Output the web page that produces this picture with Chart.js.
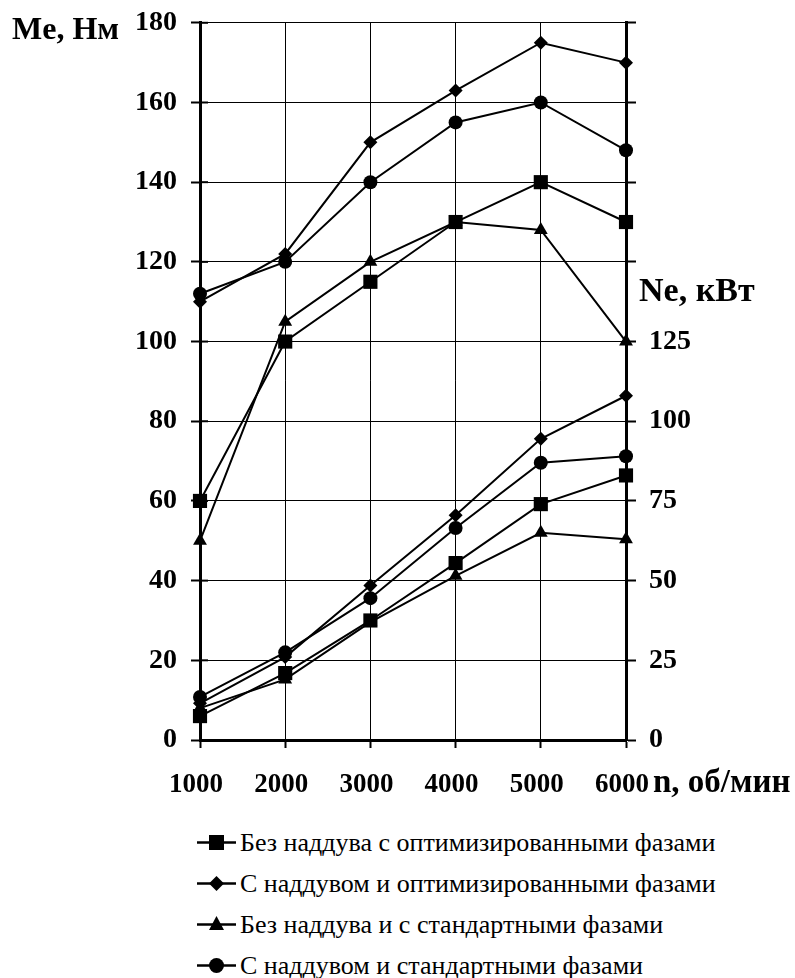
<!DOCTYPE html>
<html>
<head>
<meta charset="utf-8">
<script src="https://cdn.jsdelivr.net/npm/chart.js@4"></script>
<style>
  body { margin: 0; background: #fff; }
  #wrap { position: relative; width: 795px; height: 978px; font-family: 'Liberation Serif'; overflow: hidden; }
  #chart { position: absolute; left: 0; top: -8px; }
  .title { position: absolute; font-family: 'Liberation Serif'; font-weight: bold; white-space: nowrap; line-height: 1; }
  #legend { position: absolute; left: 197px; top: 822px; font-family: 'Liberation Serif'; }
  .item { display: flex; align-items: center; height: 41px; font-size: 26px; }
  .item svg { margin-right: 4px; }
</style>
</head>
<body>
<div id="wrap">
  <canvas id="chart" width="795" height="828"></canvas>
  <div class="title" style="left:12px; top:12px; font-size:32px;">Me, Нм</div>
  <div class="title" style="left:639px; top:273px; font-size:34px;">Ne, кВт</div>
  <div class="title" style="left:653px; top:765px; font-size:33px;">n, об/мин</div>
  <div id="legend"></div>
</div>
<script>
// rpm
const speeds = [1000, 2000, 3000, 4000, 5000, 6000];

// torque Me, N*m (left axis)
const meNoBoostOpt = [60, 100, 115, 130, 140, 130];
const meBoostOpt = [110, 122, 150, 163, 175, 170];
const meNoBoostStd = [50, 105, 120, 130, 128, 100];
const meBoostStd = [112, 120, 140, 155, 160, 148];

// power Ne, kW (right axis)
const neNoBoostOpt = [7.5, 21, 37.5, 55.5, 74, 83];
const neBoostOpt = [11.5, 26, 48.5, 70.5, 94.5, 108];
const neNoBoostStd = [10, 19, 37, 51.5, 65, 63];
const neBoostStd = [13.5, 27.5, 44.5, 66.5, 87, 89];

const seriesNames = [
    'Без наддува с оптимизированными фазами',
    'С наддувом и оптимизированными фазами',
    'Без наддува и с стандартными фазами',
    'С наддувом и стандартными фазами'
];
const markers = ['rect', 'rectRot', 'triangle', 'circle'];
const markerSizes = [10, 7, 8, 7];

const leftTicks = [0, 20, 40, 60, 80, 100, 120, 140, 160, 180];
const rightTickMax = 125;

Chart.defaults.font.family = "'Liberation Serif'";
const tickFont = { family: "'Liberation Serif'", size: 28, weight: 'bold' };
const xTickFont = { family: "'Liberation Serif'", size: 27, weight: 'bold' };

function toPoints(values) {
    return values.map((v, i) => ({ x: speeds[i], y: v }));
}

function makeSet(name, values, idx, axis) {
    return {
        label: name,
        data: toPoints(values),
        yAxisID: axis,
        borderColor: '#000',
        backgroundColor: '#000',
        borderWidth: 2,
        pointStyle: markers[idx],
        pointRadius: markerSizes[idx],
        pointHoverRadius: markerSizes[idx],
        pointBorderWidth: 0,
        tension: 0,
        clip: false
    };
}

let datasets = [
    makeSet(seriesNames[0], meNoBoostOpt, 0, 'y'),
    makeSet(seriesNames[1], meBoostOpt, 1, 'y'),
    makeSet(seriesNames[2], meNoBoostStd, 2, 'y'),
    makeSet(seriesNames[3], meBoostStd, 3, 'y'),
    makeSet(seriesNames[0], neNoBoostOpt, 0, 'y2'),
    makeSet(seriesNames[1], neBoostOpt, 1, 'y2'),
    makeSet(seriesNames[2], neNoBoostStd, 2, 'y2'),
    makeSet(seriesNames[3], neBoostStd, 3, 'y2')
];

// short tick marks on the inner side of the left axis
const innerTicks = {
    id: 'innerTicks',
    afterDraw(chart) {
        let ctx = chart.ctx;
        let y = chart.scales.y;
        let left = chart.chartArea.left;
        ctx.save();
        ctx.strokeStyle = '#000';
        ctx.lineWidth = 2;
        leftTicks.forEach((t) => {
            let py = y.getPixelForValue(t);
            ctx.beginPath();
            ctx.moveTo(left, py);
            ctx.lineTo(left + 8, py);
            ctx.stroke();
        });
        ctx.restore();
    }
};

let ctx = document.getElementById('chart').getContext('2d');
let chart = new Chart(ctx, {
    type: 'line',
    data: { datasets: datasets },
    plugins: [innerTicks],
    options: {
        responsive: false,
        animation: false,
        layout: { padding: { top: 14, left: 0, right: 0, bottom: 0 } },
        plugins: {
            legend: { display: false },
            tooltip: { enabled: false }
        },
        scales: {
            x: {
                type: 'linear',
                min: 1000,
                max: 6000,
                ticks: {
                    stepSize: 1000,
                    color: '#000',
                    font: xTickFont,
                    padding: 21,
                    labelOffset: -4,
                    callback: (v) => String(v)
                },
                grid: {
                    color: '#000',
                    lineWidth: 1,
                    tickLength: 8,
                    tickWidth: 2,
                    tickColor: '#000'
                },
                border: { color: '#000', width: 3 },
                afterFit(scale) { scale.height = 80; }
            },
            y: {
                position: 'left',
                min: 0,
                max: 180,
                ticks: {
                    stepSize: 20,
                    color: '#000',
                    font: tickFont,
                    padding: 14
                },
                grid: {
                    color: '#000',
                    lineWidth: 1,
                    tickLength: 9,
                    tickWidth: 2,
                    tickColor: '#000'
                },
                border: { color: '#000', width: 3 },
                afterFit(scale) { scale.width = 200; }
            },
            y2: {
                position: 'right',
                min: 0,
                max: 225,
                ticks: {
                    stepSize: 25,
                    color: '#000',
                    font: tickFont,
                    padding: 13,
                    callback: (v) => (v <= rightTickMax ? v : '')
                },
                grid: {
                    drawOnChartArea: false,
                    tickLength: 10,
                    tickWidth: 2,
                    tickColor: '#000'
                },
                border: { color: '#000', width: 3 },
                afterFit(scale) { scale.width = 169; }
            }
        }
    }
});

// legend with line-through markers
function markerSvg(style) {
    let shape = '';
    if (style === 'rect') shape = '<rect x="12" y="4" width="15" height="15"/>';
    if (style === 'rectRot') shape = '<polygon points="19.5,4 27,11.5 19.5,19 12,11.5"/>';
    if (style === 'triangle') shape = '<polygon points="19.5,3 27,17 12,17"/>';
    if (style === 'circle') shape = '<circle cx="19.5" cy="11.5" r="7.5"/>';
    return '<svg width="39" height="23"><line x1="0" y1="11.5" x2="39" y2="11.5" stroke="#000" stroke-width="2.5"/>' +
        '<g fill="#000">' + shape + '</g></svg>';
}

let legend = document.getElementById('legend');
seriesNames.forEach((name, i) => {
    let row = document.createElement('div');
    row.className = 'item';
    row.innerHTML = markerSvg(markers[i]) + '<span>' + name + '</span>';
    legend.appendChild(row);
});
</script>
</body>
</html>
